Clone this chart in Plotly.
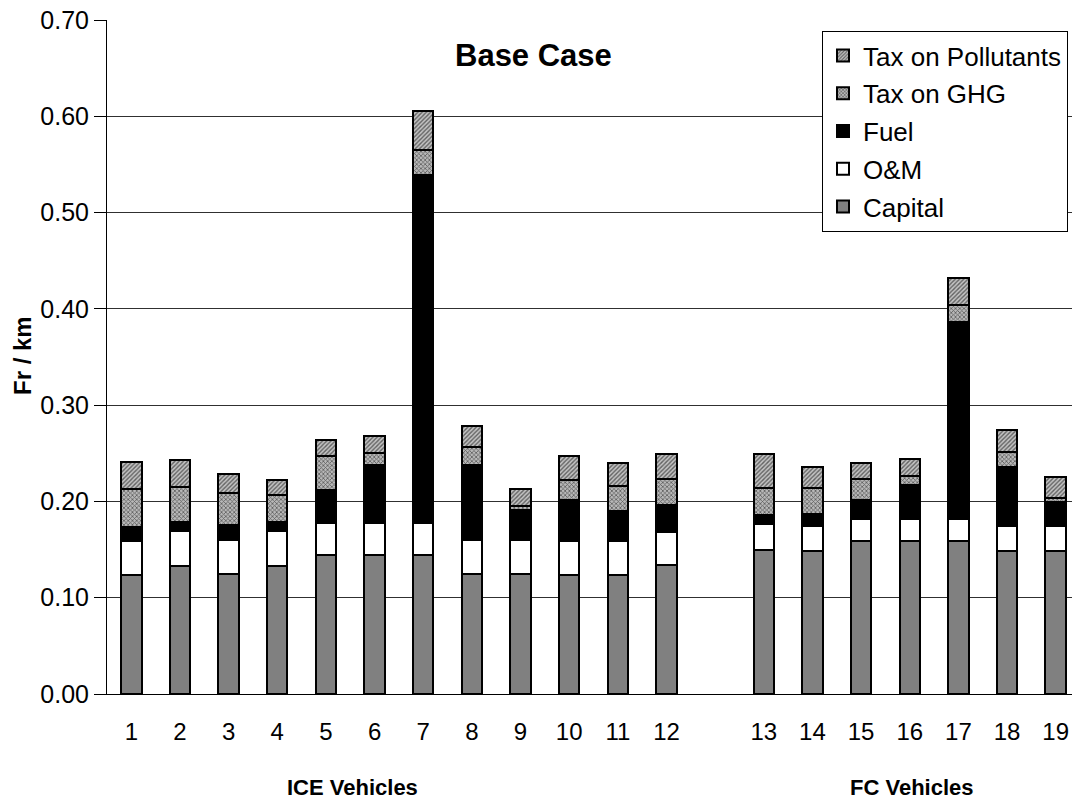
import plotly.graph_objects as go

# ---------------- data ----------------
categories = ["1", "2", "3", "4", "5", "6", "7", "8", "9", "10", "11", "12", " ",
              "13", "14", "15", "16", "17", "18", "19"]
capital = [0.124, 0.133, 0.125, 0.133, 0.144, 0.144, 0.144, 0.125, 0.125, 0.124, 0.124, 0.134, None,
           0.150, 0.149, 0.159, 0.159, 0.159, 0.149, 0.149]
om = [0.035, 0.036, 0.035, 0.036, 0.034, 0.034, 0.034, 0.035, 0.035, 0.035, 0.035, 0.034, None,
      0.027, 0.026, 0.023, 0.023, 0.023, 0.026, 0.026]
fuel = [0.014, 0.010, 0.016, 0.010, 0.034, 0.060, 0.361, 0.078, 0.031, 0.042, 0.031, 0.028, None,
        0.009, 0.012, 0.020, 0.035, 0.204, 0.061, 0.024]
tax_ghg = [0.040, 0.036, 0.033, 0.028, 0.035, 0.012, 0.026, 0.019, 0.004, 0.021, 0.026, 0.027, None,
           0.028, 0.027, 0.021, 0.009, 0.018, 0.015, 0.005]
tax_poll = [0.028, 0.028, 0.019, 0.015, 0.017, 0.018, 0.040, 0.021, 0.018, 0.025, 0.024, 0.026, None,
            0.035, 0.022, 0.017, 0.018, 0.028, 0.023, 0.021]
y_ticks = [0.0, 0.1, 0.2, 0.3, 0.4, 0.5, 0.6, 0.7]

# ---------------- layout geometry ----------------
W, H = 1072, 802
L, T, R, B = 107, 20, 0, 108
PW, PH = W - L - R, H - T - B
FONT = "Liberation Sans, Arial, sans-serif"


def px_x(px):
    return (px - L) / PW


def px_y(py):
    return 1 - (py - T) / PH


fig = go.Figure()
line = dict(color="black", width=2)
bar_w = 0.42

fig.add_trace(go.Bar(x=categories, y=capital, name="Capital", width=bar_w,
                     marker=dict(color="#808080", line=line), legendgroup="a", legendrank=5))
fig.add_trace(go.Bar(x=categories, y=om, name="O&M", width=bar_w,
                     marker=dict(color="white", line=line), legendgroup="b", legendrank=4))
fig.add_trace(go.Bar(x=categories, y=fuel, name="Fuel", width=bar_w,
                     marker=dict(color="black", line=line), legendgroup="c", legendrank=3))
fig.add_trace(go.Bar(x=categories, y=tax_ghg, name="Tax on GHG", width=bar_w,
                     marker=dict(color="white", line=line,
                                 pattern=dict(shape="x", fgcolor="black", bgcolor="#b8b8b8",
                                              size=3, solidity=0.45)),
                     legendgroup="d", legendrank=2))
fig.add_trace(go.Bar(x=categories, y=tax_poll, name="Tax on Pollutants", width=bar_w,
                     marker=dict(color="white", line=line,
                                 pattern=dict(shape="/", fgcolor="black", bgcolor="#c4c4c4",
                                              size=3, solidity=0.45)),
                     legendgroup="e", legendrank=1))

x_end = -0.5 + PW / 48.65

fig.update_layout(
    width=W, height=H,
    margin=dict(l=L, r=R, t=T, b=B, autoexpand=False),
    barmode="stack",
    paper_bgcolor="white", plot_bgcolor="white",
    font=dict(family=FONT, size=24, color="black"),
    showlegend=True,
    legend=dict(x=px_x(822), y=px_y(31), xanchor="left", yanchor="top",
                traceorder="grouped", tracegroupgap=1,
                bgcolor="white", bordercolor="black", borderwidth=1,
                font=dict(family=FONT, size=26, color="black")),
    xaxis=dict(type="category", range=[-0.5, x_end], showline=True, linecolor="black",
               linewidth=1, showgrid=False, ticks="", ticklabelstandoff=16,
               tickfont=dict(size=24)),
    yaxis=dict(range=[0, 0.70], tickvals=y_ticks, tickformat=".2f", showline=True,
               linecolor="black", linewidth=1, showgrid=True, gridcolor="#303030",
               gridwidth=1, ticks="outside", ticklen=12, tickcolor="black",
               zeroline=False, tickfont=dict(size=25)),
    annotations=[
        dict(text="<b>Base Case</b>", x=px_x(533), y=px_y(56), xref="paper", yref="paper",
             showarrow=False, font=dict(size=31), xanchor="center", yanchor="middle"),
        dict(text="<b>Fr / km</b>", x=px_x(22), y=px_y(356), xref="paper", yref="paper",
             showarrow=False, textangle=-90, font=dict(size=24), xanchor="center",
             yanchor="middle"),
        dict(text="<b>ICE Vehicles</b>", x=px_x(352), y=px_y(787), xref="paper", yref="paper",
             showarrow=False, font=dict(size=22), xanchor="center", yanchor="middle"),
        dict(text="<b>FC Vehicles</b>", x=px_x(912), y=px_y(787), xref="paper", yref="paper",
             showarrow=False, font=dict(size=22), xanchor="center", yanchor="middle"),
    ],
)

fig.write_html("out.html")
